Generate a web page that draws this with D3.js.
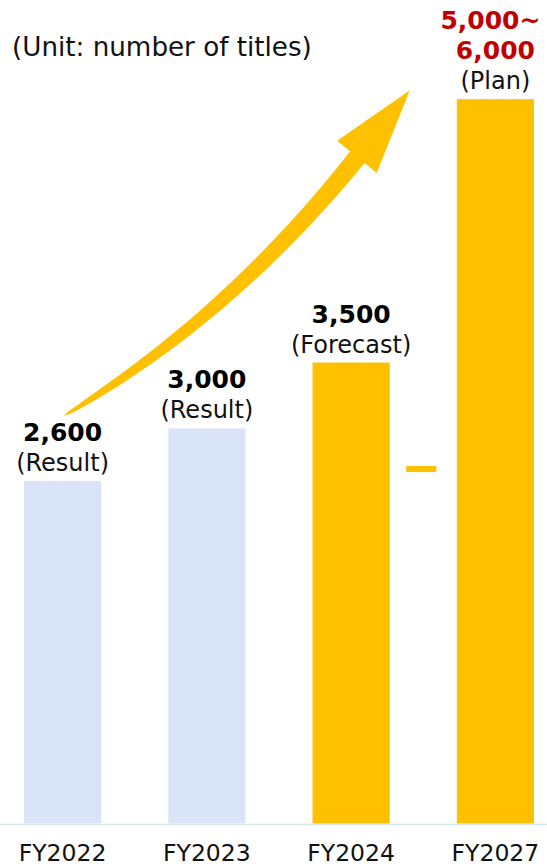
<!DOCTYPE html>
<html>
<head>
<meta charset="utf-8">
<script src="https://cdn.jsdelivr.net/npm/d3@7"></script>
<style>
  html, body { margin: 0; padding: 0; background: #fff; }
  svg { display: block; }
  text { font-family: "DejaVu Sans", Verdana, sans-serif; }
</style>
</head>
<body>
<svg id="chart" width="547" height="866"></svg>
<script>
// ---- data ----
const categories = ["FY2022", "FY2023", "FY2024", "FY2027"];
const values = [2600, 3000, 3500, 5500];            // bar heights (FY2027 drawn at mid of 5,000~6,000)
const valueLabels = [["2,600"], ["3,000"], ["3,500"], ["5,000~", "6,000"]];
const statusLabels = ["(Result)", "(Result)", "(Forecast)", "(Plan)"];
const barColors = ["#DAE4F8", "#DAE4F8", "#FFC000", "#FFC000"];
const valueColors = ["#000000", "#000000", "#000000", "#C00000"];
const unitLabel = "(Unit: number of titles)";

// ---- layout ----
const W = 547, H = 866;
const svg = d3.select("#chart");

const x = d3.scaleBand()
  .domain(categories)
  .range([24, 534])
  .paddingInner(0.465)
  .paddingOuter(0);

const y = d3.scaleLinear()
  .domain([0, 6000])
  .range([823.5, 33.3]);

// unit label
svg.append("text")
  .attr("x", 12)
  .attr("y", 56)
  .attr("font-size", 26.2)
  .attr("fill", "#111")
  .text(unitLabel);

// bars
svg.selectAll("rect.bar")
  .data(categories)
  .join("rect")
  .attr("class", "bar")
  .attr("x", d => x(d))
  .attr("width", x.bandwidth())
  .attr("y", (d, i) => y(values[i]))
  .attr("height", (d, i) => y(0) - y(values[i]))
  .attr("fill", (d, i) => barColors[i]);

// baseline
svg.append("line")
  .attr("x1", 0).attr("x2", W)
  .attr("y1", y(0) + 1).attr("y2", y(0) + 1)
  .attr("stroke", "#d6e8ea")
  .attr("stroke-width", 1.6);

// x axis labels
const xAxis = d3.axisBottom(x).tickSize(0).tickPadding(0);
const gx = svg.append("g")
  .attr("transform", `translate(0,${y(0)})`)
  .call(xAxis);
gx.select(".domain").remove();
gx.selectAll("text")
  .attr("font-family", "DejaVu Sans, Verdana, sans-serif")
  .attr("font-size", 23.5)
  .attr("fill", "#111")
  .attr("dy", 0)
  .attr("y", 37.5);

// status labels (Result / Forecast / Plan)
svg.selectAll("text.status")
  .data(categories)
  .join("text")
  .attr("class", "status")
  .attr("x", d => x(d) + x.bandwidth() / 2)
  .attr("y", (d, i) => y(values[i]) - 10)
  .attr("text-anchor", "middle")
  .attr("font-size", 24)
  .attr("fill", "#111")
  .text((d, i) => statusLabels[i]);

// value labels (bold, may be multi-line)
categories.forEach((c, i) => {
  const lines = valueLabels[i];
  lines.forEach((ln, j) => {
    svg.append("text")
      .attr("x", x(c) + x.bandwidth() / 2 + (ln.endsWith("~") ? -5 : 0))
      .attr("y", y(values[i]) - 40 - (lines.length - 1 - j) * 30)
      .attr("text-anchor", "middle")
      .attr("font-size", 25)
      .attr("font-weight", "bold")
      .attr("fill", valueColors[i])
      .text(ln);
  });
});

// small break dash between FY2024 and FY2027
const gapMid = (x("FY2024") + x.bandwidth() + x("FY2027")) / 2;
svg.append("rect")
  .attr("x", gapMid - 15 - 2)
  .attr("y", 466)
  .attr("width", 30)
  .attr("height", 6)
  .attr("fill", "#FFC000");

// growth arrow (decoration), anchored to the first and last bars
const tail = [x("FY2022") + x.bandwidth() / 2 + 1, y(values[0]) - 65];
const tip = [x("FY2027") - 47, y(values[3]) - 9];
const headBase = [tip[0] - 52.5, tip[1] + 67];
const ctrl = [230, 316.6];
function bez(t) {
  const a = (1 - t) * (1 - t), b = 2 * (1 - t) * t, c = t * t;
  return [a * tail[0] + b * ctrl[0] + c * headBase[0], a * tail[1] + b * ctrl[1] + c * headBase[1]];
}
function bezD(t) {
  return [2 * (1 - t) * (ctrl[0] - tail[0]) + 2 * t * (headBase[0] - ctrl[0]),
          2 * (1 - t) * (ctrl[1] - tail[1]) + 2 * t * (headBase[1] - ctrl[1])];
}
const N = 60;
const left = [], right = [];
for (let k = 0; k <= N; k++) {
  const t = k / N;
  const p = bez(t), d = bezD(t);
  const len = Math.hypot(d[0], d[1]);
  const nx = -d[1] / len, ny = d[0] / len;
  const w = 18.6 * Math.pow(t, 0.45) / 2;
  left.push([p[0] + nx * w, p[1] + ny * w]);
  right.push([p[0] - nx * w, p[1] - ny * w]);
}
const hd = [tip[0] - headBase[0], tip[1] - headBase[1]];
const hl = Math.hypot(hd[0], hd[1]);
const ux = hd[0] / hl, uy = hd[1] / hl;
const nx = -uy, ny = ux;
const barbL = [headBase[0] + nx * 25 - ux * 0.5, headBase[1] + ny * 25 - uy * 0.5];
const barbR = [headBase[0] - nx * 26 + ux * 0.5, headBase[1] - ny * 26 + uy * 0.5];
const pts = [...left, barbL, tip, barbR, ...right.reverse()];
svg.append("path")
  .attr("d", d3.line()(pts) + "Z")
  .attr("fill", "#FFC000");
</script>
</body>
</html>
